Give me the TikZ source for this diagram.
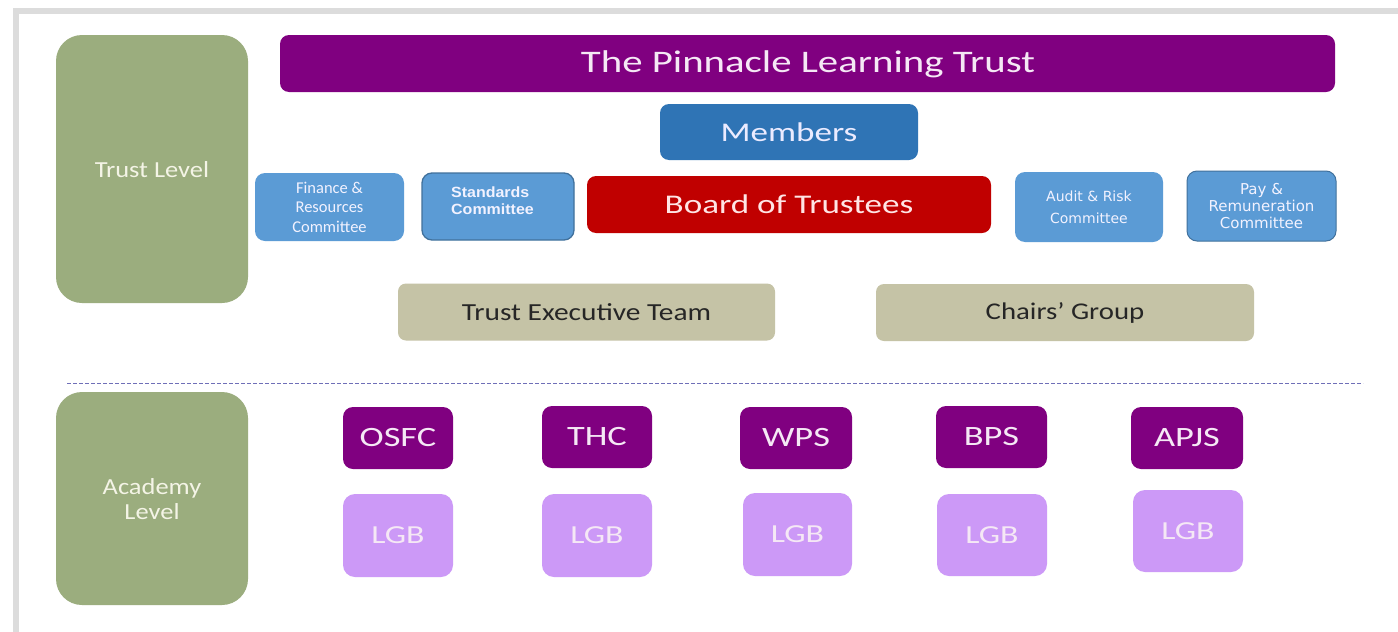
\documentclass[tikz,border=0pt]{standalone}
\usepackage{fontspec}
\setmainfont{Carlito}
\newfontfamily\widefont[FakeStretch=1.3]{Carlito}
\newfontfamily\midfont[FakeStretch=1.2]{Carlito}
\newfontfamily\lvlfont[FakeStretch=1.15]{Carlito}
\newfontfamily\arialfont[FakeStretch=1.08]{Liberation Sans}
\newfontfamily\verdfont{DejaVu Sans}
\definecolor{framegrey}{HTML}{DCDCDC}
\definecolor{levelgreen}{HTML}{9BAD7E}
\definecolor{trustpurple}{HTML}{800080}
\definecolor{memblue}{HTML}{2F74B5}
\definecolor{boardred}{HTML}{C00000}
\definecolor{comblue}{HTML}{5B9BD5}
\definecolor{comedge}{HTML}{41719C}
\definecolor{teamtan}{HTML}{C5C3A6}
\definecolor{lgbviolet}{HTML}{CC99F7}
\definecolor{dashcol}{HTML}{6F6FB8}
\definecolor{lighttext}{HTML}{F5E8F5}
\definecolor{lvltext}{HTML}{F4F4E6}
\tikzset{
  box/.style={rounded corners=9pt, inner sep=0pt, align=center, text=white},
  levelbox/.style={box, fill=levelgreen, rounded corners=26pt},
  lvltxt/.style={text=lvltext, align=center, inner sep=0pt, font=\lvlfont\fontsize{23}{25}\selectfont},
  combox/.style={box, fill=comblue, rounded corners=10pt, text=white!95!blue},
  schoolbox/.style={box, fill=trustpurple, minimum width=110pt, minimum height=62pt, rounded corners=10pt, text=lighttext, font=\widefont\fontsize{28}{30}\selectfont},
  lgbbox/.style={box, fill=lgbviolet, minimum width=110pt, minimum height=83pt, rounded corners=12pt, text=lighttext, font=\widefont\fontsize{26}{30}\selectfont},
  teambox/.style={box, fill=teamtan, minimum width=377pt, minimum height=57pt, rounded corners=8pt, text=black!85},
}
\begin{document}
\begin{tikzpicture}[x=1pt,y=-1pt]
\useasboundingbox[fill=white] (0,0) rectangle (1398,632);
% screenshot frame
\fill[framegrey] (13,8) rectangle (1398,14);
\fill[framegrey] (13,8) rectangle (19,632);
% levels
\node[levelbox, minimum width=192pt, minimum height=268pt] (trustlevel) at (152,169) {};
\node[lvltxt] (trustlabel) at (152,170) {Trust Level};
\node[levelbox, minimum width=192pt, minimum height=213pt] (acadlevel) at (152,498.5) {};
\node[lvltxt] (acadlabel) at (152,499) {Academy\\Level};
% trust
\node[box, fill=trustpurple, minimum width=1055pt, minimum height=57pt] (trust) at (807.5,63.5) {};
\node[text=lighttext, inner sep=0pt, font=\widefont\fontsize{31.4}{36}\selectfont] (trusttext) at (808,64.5) {The Pinnacle Learning Trust};
\node[box, fill=memblue, minimum width=258pt, minimum height=56pt, text=white!92!blue, font=\widefont\fontsize{27}{30}\selectfont] (members) at (789,132) {Members};
\node[box, fill=boardred, minimum width=404pt, minimum height=57pt, text=white!90!red, font=\widefont\fontsize{27}{30}\selectfont] (board) at (789,204.5) {Board of Trustees};
% committees
\node[combox, minimum width=149pt, minimum height=68pt, font=\fontsize{16.5}{19.5}\selectfont] (finance) at (329.5,207) {Finance \&\\Resources\\Committee};
\node[combox, draw=comedge, line width=1.3pt, minimum width=152pt, minimum height=67pt] (standards) at (498,206.5) {};
\node[anchor=base west, text=white!95!blue, align=left, inner sep=0pt, font=\arialfont\bfseries\fontsize{14.8}{17}\selectfont] (standardstext) at (451,214) {Standards\\Committee};
\node[combox, minimum width=148pt, minimum height=70pt, font=\verdfont\fontsize{14}{22}\selectfont] (audit) at (1089,207) {Audit \& Risk\\Committee};
\node[combox, draw=comedge, line width=1pt, minimum width=149pt, minimum height=70pt, font=\verdfont\fontsize{15}{17}\selectfont] (pay) at (1261.5,206) {Pay \&\\Remuneration\\Committee};
% teams
\node[teambox, font=\midfont\fontsize{24.5}{28}\selectfont] (exec) at (586.5,312) {Trust Executive Team};
\node[teambox, minimum width=378pt, font=\midfont\fontsize{24}{28}\selectfont] (chairs) at (1065,312.5) {Chairs’ Group};
% divider
\coordinate (divl) at (67,383);
\coordinate (divr) at (1363,383);
\draw[dashcol, dash pattern=on 3.5pt off 2.5pt, line width=0.9pt] (divl) -- (divr);
% schools
\node[schoolbox] (osfc) at (398,438) {OSFC};
\node[schoolbox] (thc) at (597,437) {THC};
\node[schoolbox, minimum width=112pt] (wps) at (796,438) {WPS};
\node[schoolbox, minimum width=111pt] (bps) at (991.5,437) {BPS};
\node[schoolbox, minimum width=112pt] (apjs) at (1187,438) {APJS};
% LGBs
\node[lgbbox] (lgb1) at (398,535.5) {LGB};
\node[lgbbox] (lgb2) at (597,535.5) {LGB};
\node[lgbbox, minimum width=109pt] (lgb3) at (797.5,534.5) {LGB};
\node[lgbbox, minimum height=82pt] (lgb4) at (992,535) {LGB};
\node[lgbbox, minimum height=82pt] (lgb5) at (1188,531) {LGB};
\end{tikzpicture}
\end{document}
